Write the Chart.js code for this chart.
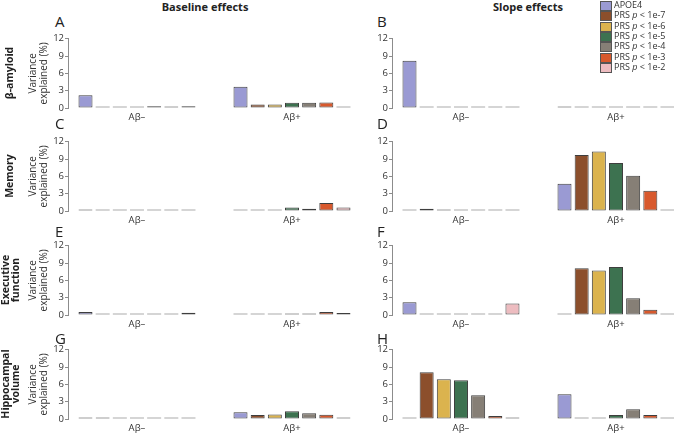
<!DOCTYPE html>
<html>
<head>
<meta charset="utf-8">
<script src="https://cdn.jsdelivr.net/npm/chart.js@4.4.1/dist/chart.umd.min.js"></script>
<style>
    html, body { margin: 0; padding: 0; background: #fff; overflow: hidden; }
    body { width: 674px; height: 437px; position: relative; font-family: "Open Sans", sans-serif; color: #222; }
    canvas { position: absolute; }
    .txt { position: absolute; white-space: nowrap; }
    .coltitle { font-weight: bold; font-size: 11px; transform: translate(-50%, -50%); }
    .letter { font-size: 15px; transform: translateY(-50%); color: #222; }
    .rowtitle { font-weight: bold; font-size: 10.5px; line-height: 9.5px; text-align: center; transform: translate(-50%, -50%) rotate(-90deg); }
    .leg { position: absolute; font-size: 9px; line-height: 10px; color: #333; }
    .leg span.box { position: absolute; left: 0; width: 10px; height: 8px; border: 1px solid #555; }
    .leg span.lab { position: absolute; left: 14px; top: -1px; white-space: nowrap; }
</style>
</head>
<body>
<script>
// groups on the x axis and the seven predictors
const groupLabels = ['Aβ–', 'Aβ+'];
const prsThresholds = ['1e-7', '1e-6', '1e-5', '1e-4', '1e-3', '1e-2'];
const seriesNames = ['APOE4'].concat(prsThresholds.map(t => 'PRS p < ' + t));
const seriesColors = ['#9a9ad3', '#8c4f2c', '#dbb34e', '#3d7250', '#867f76', '#d8592d', '#edbcc0'];

// variance explained (%), order: APOE4, PRS 1e-7 ... 1e-2
const amyloidBaseNeg = [2.2, 0, 0, 0, 0.3, 0.2, 0.3];
const amyloidBasePos = [3.7, 0.6, 0.6, 0.9, 0.9, 0.95, 0];
const amyloidSlopeNeg = [8.2, 0, 0, 0, 0, 0, 0];
const amyloidSlopePos = [0.2, 0, 0, 0, 0, 0, 0];

const memoryBaseNeg = [0.2, 0, 0, 0, 0, 0, 0];
const memoryBasePos = [0, 0, 0, 0.6, 0.4, 1.4, 0.6];
const memorySlopeNeg = [0, 0.4, 0.15, 0, 0, 0, 0];
const memorySlopePos = [4.7, 9.7, 10.3, 8.3, 6.1, 3.5, 0];

const execBaseNeg = [0.5, 0, 0, 0, 0, 0, 0.4];
const execBasePos = [0, 0, 0, 0.1, 0.1, 0.5, 0.35];
const execSlopeNeg = [2.2, 0, 0, 0, 0, 0, 2.0];
const execSlopePos = [0, 8.1, 7.7, 8.3, 2.9, 0.9, 0];

const hippoBaseNeg = [0.1, 0.2, 0, 0, 0, 0, 0];
const hippoBasePos = [1.15, 0.7, 0.8, 1.35, 1.0, 0.75, 0.25];
const hippoSlopeNeg = [0, 8.1, 6.9, 6.7, 4.1, 0.5, 0.2];
const hippoSlopePos = [4.3, 0, 0, 0.7, 1.7, 0.7, 0];

const yTicksMax = 12;
const yTicksStep = 3;

const rowTitles = [['β-amyloid'], ['Memory'], ['Executive', 'function'], ['Hippocampal', 'volume']];
const colTitles = ['Baseline effects', 'Slope effects'];
const panelLetters = ['A', 'B', 'C', 'D', 'E', 'F', 'G', 'H'];

const panelData = [
    [amyloidBaseNeg, amyloidBasePos], [amyloidSlopeNeg, amyloidSlopePos],
    [memoryBaseNeg, memoryBasePos], [memorySlopeNeg, memorySlopePos],
    [execBaseNeg, execBasePos], [execSlopeNeg, execSlopePos],
    [hippoBaseNeg, hippoBasePos], [hippoSlopeNeg, hippoSlopePos],
];

// layout (pixels)
const rowTop = [38, 141, 245, 349];      // pixel of the "12" tick in each row
const plotHeight = 70;
const padTop = 6;
const xAxisHeight = 20;
const colLeft = [0, 362];
const yAxisWidth = [68, 30];
const plotWidth = 286;
const letterY = [21, 122.5, 230.5, 337.5];
const letterX = [55, 377];

const FONT = '"Open Sans", sans-serif';
const zeroColor = '#ababab';
const edgeColor = '#3e3e3e';
const axisColor = '#8c8c8c';

Chart.defaults.font.family = FONT;
Chart.defaults.animation = false;

function isZero(ctx) {
    return ctx.raw && ctx.raw.y === 0;
}

function createPanel(idx) {
    const row = Math.floor(idx / 2), col = idx % 2;
    const [neg, pos] = panelData[idx];

    const canvas = document.createElement('canvas');
    const w = yAxisWidth[col] + plotWidth;
    const h = padTop + plotHeight + xAxisHeight;
    canvas.width = w;
    canvas.height = h;
    canvas.style.left = colLeft[col] + 'px';
    canvas.style.top = (rowTop[row] - padTop) + 'px';
    document.body.appendChild(canvas);

    const datasets = seriesNames.map((name, i) => ({
        label: name,
        data: [{ x: 1, y: neg[i] }, { x: 2, y: pos[i] }],
        backgroundColor: ctx => isZero(ctx) ? zeroColor : seriesColors[i],
        borderColor: edgeColor,
        borderWidth: ctx => isZero(ctx) ? 0 : 1,
        borderSkipped: false,
        minBarLength: 1.5,
        categoryPercentage: 0.775,
        barPercentage: 0.816,
    }));

    new Chart(canvas, {
        type: 'bar',
        data: { datasets: datasets },
        options: {
            responsive: false,
            events: [],
            layout: { padding: { top: padTop, left: 0, right: 0, bottom: 0 } },
            plugins: { legend: { display: false }, tooltip: { enabled: false } },
            scales: {
                x: {
                    type: 'linear',
                    min: 0.555,
                    max: 2.4,
                    bounds: 'data',
                    offset: false,
                    grid: { display: false, drawTicks: false },
                    border: { display: false },
                    afterBuildTicks: s => { s.ticks = groupLabels.map((_, i) => ({ value: i + 1 })); },
                    afterFit: s => { s.height = xAxisHeight; },
                    ticks: {
                        callback: v => groupLabels[v - 1],
                        padding: 4,
                        maxRotation: 0,
                        autoSkip: false,
                        color: '#333',
                        font: { size: 9.5 },
                    },
                },
                y: {
                    min: 0,
                    max: yTicksMax,
                    grid: { drawOnChartArea: false, drawTicks: true, tickLength: 3, color: axisColor },
                    border: { display: true, color: axisColor, width: 1 },
                    afterFit: s => { s.width = yAxisWidth[col]; },
                    ticks: { stepSize: yTicksStep, padding: 1, color: '#333', font: { size: 9.5 } },
                    title: {
                        display: col === 0,
                        text: ['Variance', 'explained (%)'],
                        color: '#333',
                        font: { size: 10, lineHeight: 1.05 },
                        padding: { top: 28, bottom: 0 },
                    },
                },
            },
        },
    });
}

for (let i = 0; i < panelData.length; i++) createPanel(i);

// titles, letters, legend
function addText(cls, html, left, top) {
    const d = document.createElement('div');
    d.className = 'txt ' + cls;
    d.innerHTML = html;
    d.style.left = left + 'px';
    d.style.top = top + 'px';
    document.body.appendChild(d);
}

addText('coltitle', colTitles[0], 205, 6);
addText('coltitle', colTitles[1], 528, 6);

for (let i = 0; i < panelLetters.length; i++) {
    addText('letter', panelLetters[i], letterX[i % 2], letterY[Math.floor(i / 2)]);
}

for (let r = 0; r < rowTitles.length; r++) {
    addText('rowtitle', rowTitles[r].join('<br>'), 10, rowTop[r] + plotHeight / 2);
}

for (let i = 0; i < seriesNames.length; i++) {
    const d = document.createElement('div');
    d.className = 'leg';
    d.style.left = '600px';
    d.style.top = (1 + i * 10.35) + 'px';
    const label = i === 0 ? seriesNames[0] : 'PRS <i>p</i> &lt; ' + prsThresholds[i - 1];
    d.innerHTML = '<span class="box" style="background:' + seriesColors[i] + '"></span><span class="lab">' + label + '</span>';
    document.body.appendChild(d);
}
</script>
</body>
</html>
